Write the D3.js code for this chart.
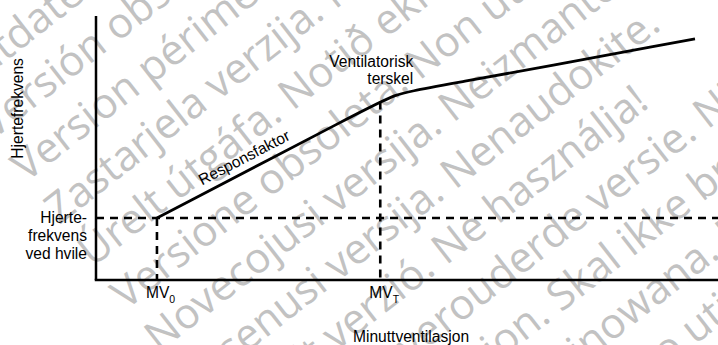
<!DOCTYPE html>
<html>
<head>
<meta charset="utf-8">
<script src="https://cdn.jsdelivr.net/npm/d3@7"></script>
<style>
  html, body { margin: 0; padding: 0; background: #fff; }
  svg { display: block; }
  text { font-family: 'Liberation Sans', Arial, sans-serif; }
</style>
</head>
<body>
<script>
// minute ventilation (x) and heart rate (y), arbitrary 0-100 units
const curveMV = [9.8, 43.2, 48.1, 52.9, 96.3]
const curveHR = [23.5, 64.5, 70.5, 72.5, 91.3]
const restHR = 23.5
const mvRest = 9.8
const mvThreshold = 45.7
const hrThreshold = 67.6

const tickLabels = [
  { mv: mvRest, sub: '0' },
  { mv: mvThreshold, sub: 'T' }
]
const restLabel = ['Hjerte-', 'frekvens', 'ved hvile']
const thresholdLabel = ['Ventilatorisk', 'terskel']

const watermark = [
  'Outdated version. Do not use.',
  'Versión obsoleta. No utilizar.',
  'Version périmée. Ne pas utiliser.',
  'Zastarjela verzija. Nemojte upotrebljavati.',
  'Úrelt útgáfa. Notið ekki.',
  'Versione obsoleta. Non utilizzare.',
  'Novecojusi versija. Neizmantot.',
  'Pasenusi versija. Nenaudokite.',
  'Elavult verzió. Ne használja!',
  'Dit is een verouderde versie. Niet gebruiken.',
  'Utdatert versjon. Skal ikke brukes.',
  'Wersja przeterminowana. Nie używać.',
  'Versão obsoleta. Não utilize.',
  'Versiune expirată. A nu se utiliza.'
]

const W = 718, H = 345
const x = d3.scaleLinear().domain([0, 100]).range([96, 718])
const y = d3.scaleLinear().domain([0, 100]).range([280, 16])

const svg = d3.select('body').append('svg')
  .attr('width', W)
  .attr('height', H)

// watermark, drawn first so the chart sits on top
const wm = svg.append('g')
  .attr('transform', 'rotate(-38)')
  .attr('fill', '#c2c2c2')
wm.selectAll('text')
  .data(watermark)
  .enter()
  .append('text')
  .style('font-family', "'Open Sans', sans-serif")
  .style('font-size', '42px')
  .attr('x', -92)
  .attr('y', (d, i) => 52 + i * 54)
  .text(d => d)

const black = '#000'

// axes
svg.append('line')
  .attr('x1', x(0)).attr('x2', x(0))
  .attr('y1', y(100)).attr('y2', y(0))
  .attr('stroke', black).attr('stroke-width', 2.5)
svg.append('line')
  .attr('x1', x(0) - 1.25).attr('x2', x(100))
  .attr('y1', y(0)).attr('y2', y(0))
  .attr('stroke', black).attr('stroke-width', 2.5)

// dashed guides
const dash = '8,6'
svg.append('line')
  .attr('x1', x(0)).attr('x2', x(100))
  .attr('y1', y(restHR)).attr('y2', y(restHR))
  .attr('stroke', black).attr('stroke-width', 2.6)
  .attr('stroke-dasharray', dash)
svg.append('line')
  .attr('x1', x(mvRest)).attr('x2', x(mvRest))
  .attr('y1', y(restHR)).attr('y2', y(0))
  .attr('stroke', black).attr('stroke-width', 2.6)
  .attr('stroke-dasharray', dash)
svg.append('line')
  .attr('x1', x(mvThreshold)).attr('x2', x(mvThreshold))
  .attr('y1', y(hrThreshold)).attr('y2', y(0))
  .attr('stroke', black).attr('stroke-width', 2.6)
  .attr('stroke-dasharray', dash)

// heart rate curve
const pts = curveMV.map((v, i) => [v, curveHR[i]])
svg.append('path')
  .datum(pts)
  .attr('fill', 'none')
  .attr('stroke', black)
  .attr('stroke-width', 2.8)
  .attr('d', d3.line().x(d => x(d[0])).y(d => y(d[1])).curve(d3.curveBasis))

// labels
const fs = '15.6px'
const ang = Math.atan2(y(curveHR[1]) - y(curveHR[0]), x(curveMV[1]) - x(curveMV[0])) * 180 / Math.PI
const rMV = 24.8
const rHR = curveHR[0] + (rMV - curveMV[0]) * (curveHR[1] - curveHR[0]) / (curveMV[1] - curveMV[0])
svg.append('text')
  .attr('transform', `translate(${x(rMV)},${y(rHR)}) rotate(${ang})`)
  .attr('y', -8)
  .attr('text-anchor', 'middle')
  .style('font-size', fs)
  .text('Responsfaktor')

svg.append('text')
  .attr('transform', `translate(23,${y(65)}) rotate(-90)`)
  .attr('text-anchor', 'middle')
  .style('font-size', fs)
  .text('Hjertefrekvens')

svg.append('text')
  .attr('x', (x(0) + x(100)) / 2 + 4)
  .attr('y', 342)
  .attr('text-anchor', 'middle')
  .style('font-size', fs)
  .text('Minuttventilasjon')

svg.append('g')
  .selectAll('text')
  .data(restLabel)
  .enter()
  .append('text')
  .attr('x', x(0) - 9)
  .attr('y', (d, i) => y(restHR) + 5.5 + i * 18)
  .attr('text-anchor', 'end')
  .style('font-size', fs)
  .text(d => d)

svg.append('g')
  .selectAll('text')
  .data(thresholdLabel)
  .enter()
  .append('text')
  .attr('x', x(mvThreshold) + 33)
  .attr('y', (d, i) => 67 + i * 17)
  .attr('text-anchor', 'end')
  .style('font-size', fs)
  .text(d => d)

const ticks = svg.append('g')
  .selectAll('text')
  .data(tickLabels)
  .enter()
  .append('text')
  .attr('x', d => x(d.mv) - 11)
  .attr('y', 298)
  .style('font-size', fs)
ticks.append('tspan').text('MV')
ticks.append('tspan')
  .attr('dy', 5)
  .style('font-size', '10.5px')
  .text(d => d.sub)
</script>
</body>
</html>
